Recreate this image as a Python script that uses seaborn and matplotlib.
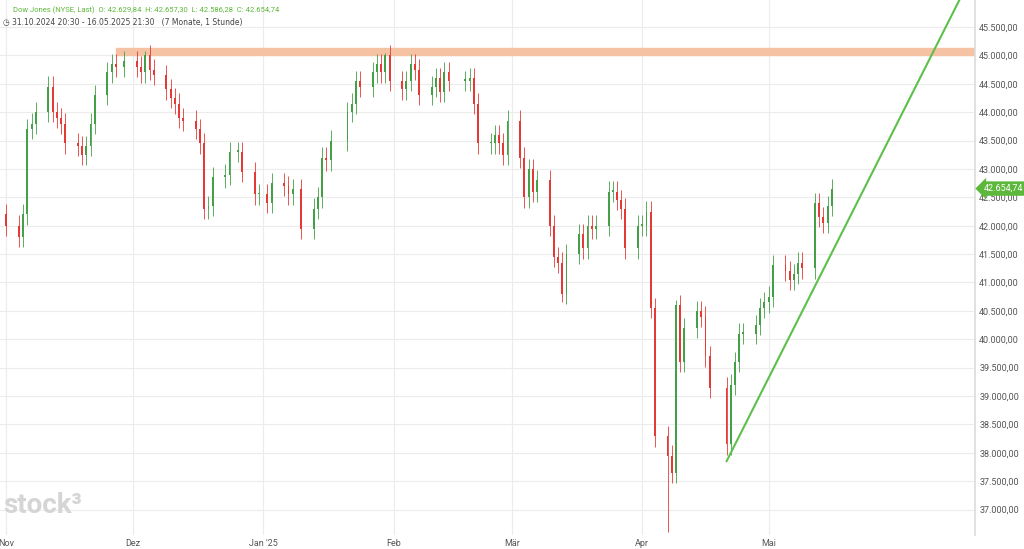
import pandas as pd
import numpy as np
import matplotlib
matplotlib.use("Agg")
import matplotlib.pyplot as plt
import matplotlib.dates as mdates
import seaborn as sns

# daily closes, one list per month (trading days only)
nov_days = [1, 4, 5, 6, 7, 8, 11, 12, 13, 14, 15, 18, 19, 20, 21, 22, 25, 26, 27, 29]
nov_close = [42000, 41800, 42200, 43700, 43800, 44000, 44450, 44000, 43900, 43800, 43450,
             43400, 43250, 43400, 43800, 44300, 44700, 44850, 44800, 44900]
dec_days = [2, 3, 4, 5, 6, 9, 10, 11, 12, 13, 16, 17, 18, 19, 20, 23, 24, 26, 27, 30, 31]
dec_close = [44800, 44700, 45000, 44750, 44650, 44400, 44250, 44150, 43900, 43850, 43700,
             43450, 42300, 42350, 42850, 42900, 43300, 43300, 42950, 42550, 42550]
jan_days = [2, 3, 6, 7, 8, 10, 13, 14, 15, 16, 17, 21, 22, 23, 24, 27, 28, 29, 30, 31]
jan_close = [42400, 42750, 42700, 42550, 42650, 41950, 42300, 42500, 43200, 43150, 43500,
             44000, 44150, 44550, 44450, 44700, 44850, 44700, 45000, 44550]
feb_days = [3, 4, 5, 6, 7, 10, 11, 12, 13, 14, 18, 19, 20, 21, 24, 25, 26, 27, 28]
feb_close = [44400, 44550, 44850, 44750, 44300, 44450, 44600, 44350, 44700, 44550, 44550,
             44600, 44150, 43450, 43450, 43600, 43450, 43250, 43850]
mar_days = [3, 4, 5, 6, 7, 10, 11, 12, 13, 14, 17, 18, 19, 20, 21, 24, 25, 26, 27, 28, 31]
mar_close = [43200, 42500, 43000, 42600, 42800, 42000, 41450, 41350, 40800, 41500, 41850,
             41600, 42000, 41950, 42000, 42600, 42600, 42450, 42300, 41600, 42000]
apr_days = [1, 2, 3, 4, 7, 8, 9, 10, 11, 14, 15, 16, 17, 21, 22, 23, 24, 25, 28, 29, 30]
apr_close = [42000, 42250, 40550, 38300, 37950, 37650, 40600, 39600, 40200, 40500, 40400,
             39700, 39150, 38150, 39200, 39600, 40100, 40100, 40250, 40550, 40650]
may_days = [1, 2, 5, 6, 7, 8, 9, 12, 13, 14, 15, 16]
may_close = [40750, 41300, 41200, 41050, 41150, 41350, 41250, 42400, 42150, 42050, 42350, 42650]
first_open = 42200
wick = 180
low_override = {"2025-04-07": 36600, "2025-04-04": 38100, "2025-03-13": 40650}
high_override = {"2025-04-09": 40700, "2024-12-04": 45080, "2025-01-30": 45050}

# support / resistance
resist_level = (45000, 45070)
resist_start = "2024-11-27"
trend_dates = ["2025-04-21", "2025-06-19"]
trend_vals = [37850, 46520]

month_ticks = ["2024-11-01", "2024-12-01", "2025-01-01", "2025-02-01", "2025-03-01",
               "2025-04-01", "2025-05-01"]
month_labels = ["Nov", "Dez", "Jan '25", "Feb", "Mär", "Apr", "Mai"]
last_price = "42.654,74"
header1 = "Dow Jones (NYSE, Last)  O: 42.629,84  H: 42.657,30  L: 42.586,28  C: 42.654,74"
header2 = "31.10.2024 20:30 - 16.05.2025 21:30   (7 Monate, 1 Stunde)"

rows = []
for y, m, days, closes in [(2024, 11, nov_days, nov_close), (2024, 12, dec_days, dec_close),
                           (2025, 1, jan_days, jan_close), (2025, 2, feb_days, feb_close),
                           (2025, 3, mar_days, mar_close), (2025, 4, apr_days, apr_close),
                           (2025, 5, may_days, may_close)]:
    for d, c in zip(days, closes):
        rows.append((pd.Timestamp(y, m, d), c))
df = pd.DataFrame(rows, columns=["date", "close"])
df["open"] = df["close"].shift(1).fillna(first_open)
df["high"] = df[["open", "close"]].max(axis=1) + wick
df["low"] = df[["open", "close"]].min(axis=1) - wick
for k, v in low_override.items():
    df.loc[df["date"] == pd.Timestamp(k), "low"] = v
for k, v in high_override.items():
    df.loc[df["date"] == pd.Timestamp(k), "high"] = v

sns.set_theme(style="white")
plt.rcParams["font.family"] = ["Roboto", "DejaVu Sans"]

fig = plt.figure(figsize=(10.24, 5.49), dpi=100)
ax = fig.add_axes([0, 14 / 549, 975 / 1024, 535 / 549])

up_col, dn_col = "#43a047", "#e53935"
x = mdates.date2num(df["date"])
colors = np.where(df["close"] >= df["open"], up_col, dn_col)
ax.vlines(x, df["low"], df["high"], colors=colors, linewidth=0.6, zorder=3)
ax.bar(x, (df["close"] - df["open"]).abs().clip(lower=25), bottom=df[["open", "close"]].min(axis=1),
       width=0.45, color=colors, zorder=4, linewidth=0)

xmin, xmax = mdates.date2num(pd.Timestamp("2024-10-30 12:00")), mdates.date2num(pd.Timestamp("2025-06-19"))
ax.set_xlim(xmin, xmax)
ax.set_ylim(36553, 45975)

ax.axhspan(resist_level[0], resist_level[1] + 60, xmin=(mdates.date2num(pd.Timestamp(resist_start)) - xmin) / (xmax - xmin),
           xmax=1, color="#f5c2a3", zorder=2)
trend = pd.DataFrame({"date": pd.to_datetime(trend_dates), "val": trend_vals})
sns.lineplot(data=trend, x="date", y="val", ax=ax, color="#5cc04a", linewidth=1.5, zorder=5)

ax.set_yticks(np.arange(37000, 45501, 500))
ax.set_xticks(mdates.date2num(pd.to_datetime(month_ticks)))
ax.set_xticklabels(month_labels)
ax.yaxis.tick_right()
ax.set_yticklabels([f"{v:,.2f}".replace(",", "X").replace(".", ",").replace("X", ".") for v in ax.get_yticks()])
ax.tick_params(axis="both", labelsize=6.5, colors="#555555", length=0, pad=3)
ax.grid(True, color="#ececec", linewidth=0.8)
ax.set_xlabel("")
ax.set_ylabel("")
for s in ["top", "left", "bottom"]:
    ax.spines[s].set_visible(False)
ax.spines["right"].set_color("#dddddd")

ax.annotate(last_price, xy=(1, 42654), xycoords=("axes fraction", "data"), xytext=(6, 0),
            textcoords="offset points", va="center", ha="left", fontsize=6.5, color="white",
            bbox=dict(boxstyle="larrow,pad=0.3", fc="#5cb83a", ec="none"))

fig.text(0.013, 0.988, header1, fontsize=5.5, color="#5cb83a", va="top")
fig.text(0.003, 0.967, "◷ " + header2, fontsize=5.5, color="#444444", va="top", family=["DejaVu Sans"])
fig.text(0.003, 0.055, "stock³", fontsize=20, color="#d5d5d5", va="bottom", fontweight="bold")

fig.savefig("out.png", dpi=100)
